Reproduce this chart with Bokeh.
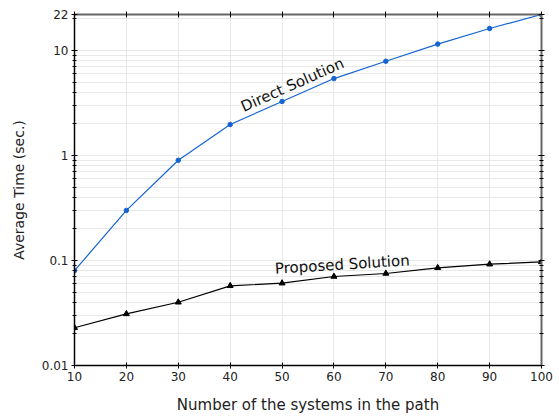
from bokeh.plotting import figure
from bokeh.models import (Range1d, FixedTicker, LinearAxis, LogAxis,
                          CustomJSTickFormatter, ColumnDataSource)
from bokeh.core.properties import value
from bokeh.embed import file_html
from bokeh.resources import INLINE

# ---- data ----
n_systems = [10, 20, 30, 40, 50, 60, 70, 80, 90, 100]
direct_time = [0.080, 0.30, 0.90, 1.97, 3.27, 5.4, 7.9, 11.5, 16.2, 22.0]
proposed_time = [0.0229, 0.031, 0.040, 0.0574, 0.0608, 0.0704, 0.0752, 0.0851, 0.0922, 0.097]
x_ticks = [10, 20, 30, 40, 50, 60, 70, 80, 90, 100]
y_ticks = [0.01, 0.1, 1, 10, 22]
y_minor = [m * d for d in (0.01, 0.1, 1) for m in range(2, 10)] + [20]
labels_text = ["Direct Solution", "Proposed Solution"]
labels_x = [52.0, 61.6]
labels_y = [4.7, 0.0915]
labels_angle = [24, 3.6]

FONT = "DejaVu Sans"
BLUE = "#1464d2"

p = figure(width=555, height=416, output_backend="svg", toolbar_location=None,
           y_axis_type="log", x_range=Range1d(10, 100), y_range=Range1d(0.01, 22),
           min_border_left=74, min_border_right=14, min_border_top=14, min_border_bottom=51)
p.outline_line_color = None
p.background_fill_color = "white"

fmt = CustomJSTickFormatter(code="return tick.toString();")
blank = CustomJSTickFormatter(code="return '';")

# bottom axis
xa = p.xaxis[0]
xa.ticker = FixedTicker(ticks=x_ticks)
xa.axis_label = "Number of the systems in the path"
# left axis
ya = p.yaxis[0]
ya.ticker = FixedTicker(ticks=y_ticks, minor_ticks=y_minor)
ya.formatter = fmt
ya.axis_label = "Average Time (sec.)"

for ax in (xa, ya):
    ax.axis_line_color = "black"
    ax.axis_line_width = 1.5
    ax.major_tick_line_color = "black"
    ax.major_tick_in = 3
    ax.major_tick_out = 3
    ax.minor_tick_in = 2
    ax.minor_tick_out = 2
    ax.minor_tick_line_color = "black"
    ax.major_label_text_font = FONT
    ax.major_label_text_font_size = "12px"
    ax.major_label_text_color = "#222222"
    ax.axis_label_text_font = FONT
    ax.axis_label_text_font_style = "normal"
    ax.axis_label_text_color = "#222222"
    ax.major_label_standoff = 3
xa.minor_tick_line_color = None
xa.axis_label_text_font_size = "15px"
xa.axis_label_standoff = 12
ya.axis_label_text_font_size = "14px"
ya.axis_label_standoff = 12

# top and right mirrored axes (ticks only)
top = LinearAxis(ticker=FixedTicker(ticks=x_ticks), formatter=blank,
                 major_label_standoff=0, axis_line_color="#666666", axis_line_width=2,
                 major_tick_in=3, major_tick_out=3, major_tick_line_color="black",
                 minor_tick_line_color=None)
p.add_layout(top, "above")
right = LogAxis(ticker=FixedTicker(ticks=y_ticks, minor_ticks=y_minor), formatter=blank,
                major_label_standoff=0,
                axis_line_color="#666666", axis_line_width=2,
                major_tick_in=3, major_tick_out=3, major_tick_line_color="black",
                minor_tick_in=2, minor_tick_out=2, minor_tick_line_color="black")
p.add_layout(right, "right")

# grids
p.xgrid.ticker = FixedTicker(ticks=x_ticks)
p.xgrid.grid_line_color = "#e8e8e8"
p.ygrid.ticker = FixedTicker(ticks=y_ticks, minor_ticks=y_minor)
p.ygrid.grid_line_color = "#e8e8e8"
p.ygrid.minor_grid_line_color = "#e8e8e8"

# data
p.line(n_systems, direct_time, line_color=BLUE, line_width=1.2)
p.scatter(n_systems, direct_time, marker="circle", size=4.5, fill_color=BLUE, line_color=BLUE)
p.line(n_systems, proposed_time, line_color="black", line_width=1.2)
p.scatter(n_systems, proposed_time, marker="triangle", size=6, fill_color="black", line_color="black")

src = ColumnDataSource(dict(x=labels_x, y=labels_y, t=labels_text, a=labels_angle))
p.text(x="x", y="y", text="t", angle="a", angle_units="deg", source=src,
       text_font=value(FONT), text_font_size="15px", text_align="center",
       text_baseline="middle", text_color="#111111")

open("out.html", "w").write(file_html(p, INLINE))
